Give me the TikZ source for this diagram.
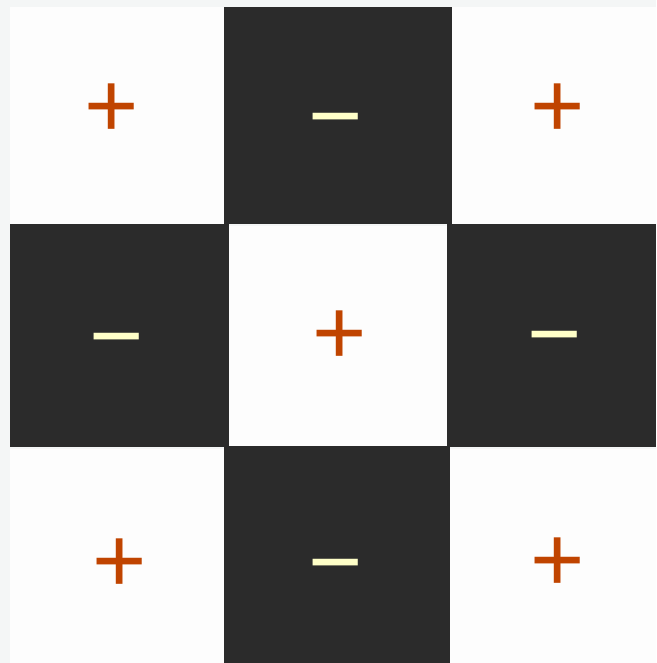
\documentclass[tikz,border=0pt]{standalone}
\usepackage{fontspec}
\setmainfont{Liberation Sans}
\definecolor{bgc}{HTML}{F4F6F6}
\definecolor{lightc}{HTML}{FDFDFD}
\definecolor{darkc}{HTML}{2B2B2B}
\definecolor{plusc}{HTML}{C04400}
\definecolor{minusc}{HTML}{FFFFC8}
\tikzset{
  lightcell/.style={fill=lightc},
  darkcell/.style={fill=darkc},
  plussign/.style={text=plusc,inner sep=0pt,font=\fontsize{93}{93}\selectfont},
  minussign/.style={text=minusc,inner sep=0pt,font=\fontsize{93}{93}\selectfont},
}
\begin{document}
\begin{tikzpicture}[x=1pt,y=-1pt]
\fill[bgc] (0,0) rectangle (656,663);
\useasboundingbox (0,0) rectangle (656,663);
% top row
\fill[lightcell] (10,7) rectangle (224,224);
\fill[darkcell] (224,7) rectangle (452,224);
\fill[lightcell] (452,7) rectangle (656,224);
% middle row
\fill[darkcell] (10,224) rectangle (229,447);
\fill[lightcell] (229,226) rectangle (447,446);
\fill[darkcell] (447,224) rectangle (656,447);
% bottom row
\fill[lightcell] (10,449) rectangle (224,663);
\fill[darkcell] (224,446) rectangle (450,663);
\fill[lightcell] (450,449) rectangle (656,663);
% signs
\node[plussign] (p1) at (112,111) {+};
\node[minussign] (m1) at (336,130) {−};
\node[plussign] (p2) at (558,111) {+};
\node[minussign] (m2) at (117,350) {−};
\node[plussign] (p3) at (340,338) {+};
\node[minussign] (m3) at (555,348) {−};
\node[plussign] (p4) at (120,566) {+};
\node[minussign] (m4) at (336,576) {−};
\node[plussign] (p5) at (558,565) {+};
\end{tikzpicture}
\end{document}
